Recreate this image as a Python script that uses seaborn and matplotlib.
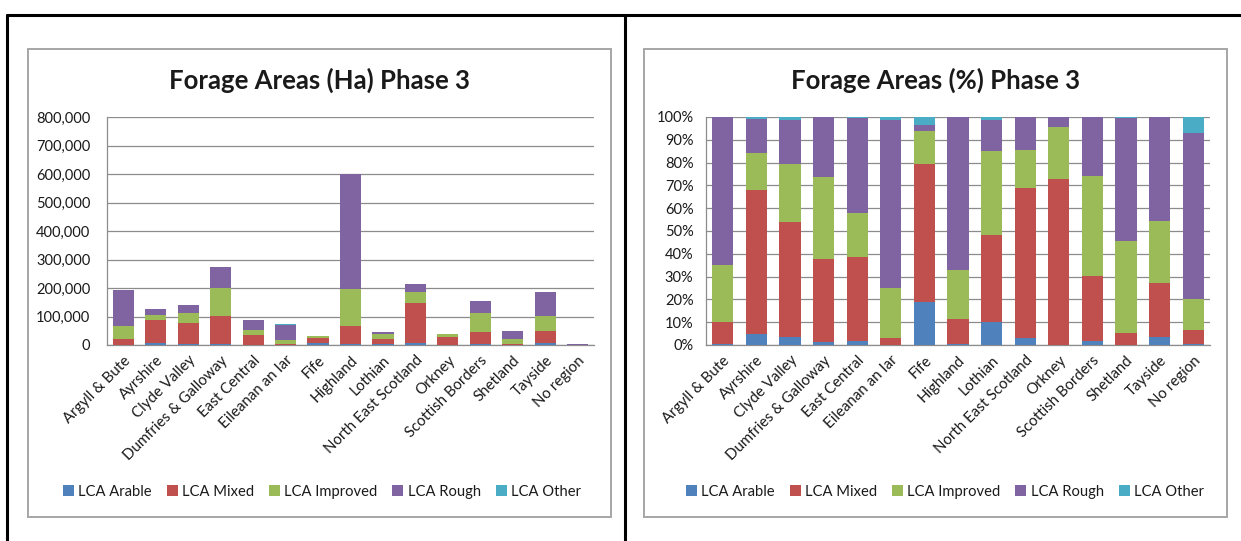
import matplotlib
matplotlib.use("Agg")
import matplotlib.pyplot as plt
from matplotlib.patches import Rectangle, Patch
from matplotlib.lines import Line2D
from matplotlib.ticker import FuncFormatter, MultipleLocator
import numpy as np
import seaborn as sns

# Regions (categories)
regions = ["Argyll & Bute", "Ayrshire", "Clyde Valley", "Dumfries & Galloway",
           "East Central", "Eileanan an Iar", "Fife", "Highland", "Lothian",
           "North East Scotland", "Orkney", "Scottish Borders", "Shetland",
           "Tayside", "No region"]
series = ["LCA Arable", "LCA Mixed", "LCA Improved", "LCA Rough", "LCA Other"]
colors = ["#4F81BD", "#C0504D", "#9BBB59", "#8064A2", "#4BACC6"]

# Forage areas in hectares
ha_arable = [800, 6000, 5000, 3300, 1400, 100, 6000, 2400, 4700, 6300, 40, 2500, 50, 6700, 20]
ha_mixed = [19000, 80000, 71000, 100000, 33000, 2300, 19800, 66000, 17500, 142000, 28500, 44000, 2500, 44000, 250]
ha_improved = [48500, 21000, 36000, 97500, 17000, 15500, 4600, 129000, 17200, 36500, 9200, 67500, 20000, 51500, 540]
ha_rough = [125500, 19000, 27000, 71500, 37000, 53000, 900, 401500, 6100, 30500, 1600, 39500, 26500, 85000, 2920]
ha_other = [200, 900, 2100, 600, 400, 1100, 1100, 600, 700, 200, 40, 200, 200, 200, 280]

# Forage areas as % of region total
pct_arable = [0.4, 4.7, 3.6, 1.2, 1.6, 0.1, 18.8, 0.4, 10.3, 2.9, 0.1, 1.6, 0.1, 3.6, 0.4]
pct_mixed = [9.7, 63.1, 50.3, 36.6, 37.2, 3.1, 60.8, 11.0, 37.8, 65.9, 72.5, 28.6, 5.1, 23.4, 6.3]
pct_improved = [25.0, 16.6, 25.4, 35.7, 19.2, 21.7, 14.3, 21.5, 37.2, 16.9, 23.2, 44.0, 40.6, 27.5, 13.4]
pct_rough = [64.8, 14.9, 19.2, 26.3, 41.6, 73.6, 2.7, 67.0, 13.2, 14.2, 4.1, 25.7, 53.8, 45.4, 73.0]
pct_other = [0.1, 0.7, 1.5, 0.2, 0.4, 1.5, 3.4, 0.1, 1.5, 0.1, 0.1, 0.1, 0.4, 0.1, 6.9]

W, H = 1241, 541
FONT = ["Lato", "DejaVu Sans"]
GRID = "#8C8C8C"

sns.set_theme(style="white")
plt.rcParams["font.family"] = FONT

fig = plt.figure(figsize=(W / 100, H / 100), dpi=100)


def fx(px):
    return px / W


def fy(py):
    return 1 - py / H


# table lines around the two charts
for xs, ys in [([7, 1241], [15, 15]), ([7, 7], [15, 541]), ([625, 625], [15, 541])]:
    fig.add_artist(Line2D([fx(x) for x in xs], [fy(y) for y in ys],
                          color="black", lw=2.2, transform=fig.transFigure))

# chart boxes
for x0, x1 in [(28, 611), (644, 1227)]:
    fig.add_artist(Rectangle((fx(x0), fy(517)), fx(x1) - fx(x0), fy(49) - fy(517),
                             fill=False, edgecolor="#A6A6A6", lw=1.4,
                             transform=fig.transFigure))


def stacked(ax, layers, width):
    cum = np.cumsum(np.array(layers, dtype=float), axis=0)
    # draw tallest cumulative first so lower layers sit on top
    for i in range(len(layers) - 1, -1, -1):
        sns.barplot(x=regions, y=cum[i], color=colors[i], saturation=1,
                    width=width, ax=ax, linewidth=0, zorder=3)


def style_axes(ax):
    ax.set_xlim(-0.5, len(regions) - 0.5)
    ax.yaxis.grid(True, color=GRID, lw=0.9, zorder=0)
    ax.xaxis.grid(False)
    for s in ["top", "right"]:
        ax.spines[s].set_visible(False)
    for s in ["left", "bottom"]:
        ax.spines[s].set_color(GRID)
        ax.spines[s].set_linewidth(0.9)
    ax.tick_params(axis="both", length=0, colors="#1a1a1a")
    ax.tick_params(axis="y", pad=12, labelsize=10.5)
    ax.set_xticks(range(len(regions)))
    ax.set_xticklabels(regions, rotation=45, ha="right", rotation_mode="anchor")
    ax.tick_params(axis="x", pad=6, labelsize=10.8)
    ax.set_xlabel("")
    ax.set_ylabel("")
    ax.set_axisbelow(True)


# left chart: hectares
ax1 = fig.add_axes([fx(107), fy(345), fx(594) - fx(107), fy(117) - fy(345)])
stacked(ax1, [ha_arable, ha_mixed, ha_improved, ha_rough, ha_other], 0.65)
style_axes(ax1)
ax1.set_ylim(0, 800000)
ax1.yaxis.set_major_locator(MultipleLocator(100000))
ax1.yaxis.set_major_formatter(FuncFormatter(lambda v, p: f"{v:,.0f}"))

# right chart: percentages
ax2 = fig.add_axes([fx(706), fy(345), fx(1210) - fx(706), fy(117) - fy(345)])
stacked(ax2, [pct_arable, pct_mixed, pct_improved, pct_rough, pct_other], 0.63)
style_axes(ax2)
ax2.tick_params(axis="y", pad=9)
ax2.set_ylim(0, 100)
ax2.yaxis.set_major_locator(MultipleLocator(10))
ax2.yaxis.set_major_formatter(FuncFormatter(lambda v, p: f"{v:.0f}%"))

# titles
fig.text(fx(320), fy(80), "Forage Areas (Ha) Phase 3", ha="center", va="center",
         fontsize=18.5, fontweight="bold", color="#1a1a1a")
fig.text(fx(936), fy(80), "Forage Areas (%) Phase 3", ha="center", va="center",
         fontsize=18.5, fontweight="bold", color="#1a1a1a")

# legends
handles = [Patch(facecolor=c, edgecolor="none", label=s) for s, c in zip(series, colors)]
for cx in [322, 945]:
    fig.legend(handles=handles, loc="center", bbox_to_anchor=(fx(cx), fy(492)),
               ncol=5, frameon=False, fontsize=10.6, handlelength=0.75,
               handleheight=0.75, handletextpad=0.3, columnspacing=1.0,
               labelcolor="#1a1a1a")

fig.savefig("out.png", dpi=100, facecolor="white")
